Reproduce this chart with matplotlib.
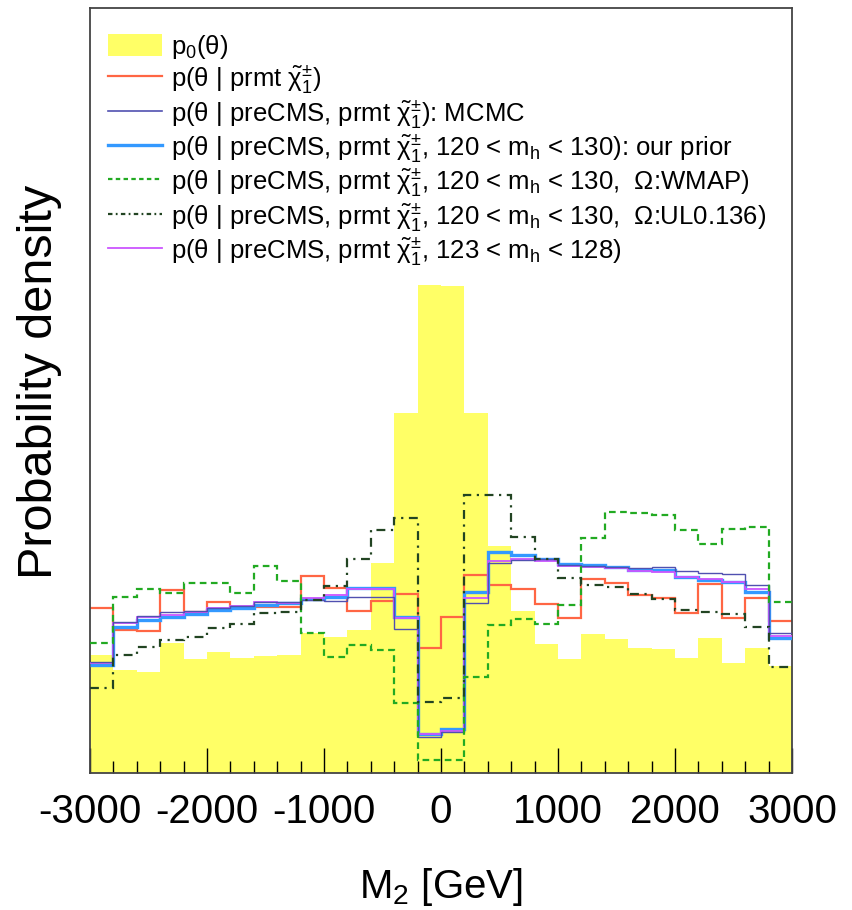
import matplotlib

matplotlib.use("Agg")
import matplotlib.pyplot as plt
import numpy as np
from matplotlib.lines import Line2D
from matplotlib.patches import Patch
from matplotlib.ticker import MultipleLocator, NullLocator

plt.rcParams["font.family"] = ["Liberation Sans", "DejaVu Sans"]
plt.rcParams["mathtext.fontset"] = "custom"
plt.rcParams["mathtext.rm"] = "Liberation Sans"
plt.rcParams["mathtext.it"] = "Liberation Sans:italic"
plt.rcParams["mathtext.default"] = "regular"
plt.rcParams["axes.unicode_minus"] = False

# 30 bins of 200 GeV on M2
BIN_EDGES = np.linspace(-3000, 3000, 31)

# probability density (arbitrary units), one value per bin
P0 = [1.18, 1.03, 1.01, 1.30, 1.14, 1.21, 1.15, 1.17, 1.18, 1.40,
      1.36, 1.43, 2.10, 3.60, 4.88, 4.87, 3.60, 2.27, 1.62, 1.29,
      1.14, 1.39, 1.34, 1.25, 1.24, 1.15, 1.35, 1.10, 1.25, 1.07]
P_PRMT = [1.65, 1.43, 1.42, 1.83, 1.61, 1.71, 1.66, 1.66, 1.66, 1.97,
          1.85, 1.62, 1.72, 1.79, 1.25, 1.56, 1.98, 1.88, 1.84, 1.69,
          1.55, 1.94, 1.90, 1.78, 1.75, 1.60, 1.89, 1.55, 1.75, 1.52]
P_MCMC = [1.11, 1.51, 1.57, 1.61, 1.62, 1.65, 1.67, 1.71, 1.71, 1.73,
          1.72, 1.76, 1.76, 1.44, 0.36, 0.41, 1.70, 2.10, 2.13, 2.14,
          2.08, 2.07, 2.06, 2.05, 2.06, 2.02, 2.00, 1.99, 1.88, 1.40]
P_PRIOR = [1.08, 1.46, 1.53, 1.56, 1.59, 1.63, 1.65, 1.68, 1.70, 1.74,
           1.76, 1.85, 1.85, 1.56, 0.39, 0.44, 1.81, 2.21, 2.18, 2.14,
           2.09, 2.08, 2.06, 2.03, 2.03, 1.96, 1.93, 1.91, 1.81, 1.35]
P_WMAP = [1.30, 1.76, 1.84, 1.80, 1.90, 1.90, 1.80, 2.07, 1.92, 1.40,
          1.16, 1.28, 1.23, 0.70, 0.13, 0.13, 0.96, 1.48, 1.54, 1.49,
          1.68, 2.35, 2.61, 2.60, 2.58, 2.43, 2.29, 2.44, 2.46, 1.71]
P_UL = [0.85, 1.18, 1.26, 1.33, 1.36, 1.45, 1.49, 1.60, 1.61, 1.73,
        1.87, 2.14, 2.43, 2.55, 0.71, 0.75, 2.78, 2.78, 2.36, 2.14,
        1.95, 1.88, 1.86, 1.79, 1.74, 1.63, 1.61, 1.59, 1.46, 1.06]
P_MH123 = [1.10, 1.50, 1.56, 1.58, 1.61, 1.65, 1.67, 1.71, 1.70, 1.75,
           1.78, 1.84, 1.84, 1.55, 0.39, 0.42, 1.75, 2.12, 2.14, 2.12,
           2.07, 2.06, 2.05, 2.02, 2.01, 1.96, 1.94, 1.91, 1.84, 1.37]

CHI = r"$\tilde{\chi}^{\pm}_{1}$"
LABELS = [
    "p$_0$(θ)",
    f"p(θ | prmt {CHI})",
    f"p(θ | preCMS, prmt {CHI}): MCMC",
    f"p(θ | preCMS, prmt {CHI}, 120 < m$_h$ < 130): our prior",
    f"p(θ | preCMS, prmt {CHI}, 120 < m$_h$ < 130,  Ω:WMAP)",
    f"p(θ | preCMS, prmt {CHI}, 120 < m$_h$ < 130,  Ω:UL0.136)",
    f"p(θ | preCMS, prmt {CHI}, 123 < m$_h$ < 128)",
]

YELLOW = "#ffff66"
RED = "#ff6644"
NAVY = "#5050b0"
BLUE = "#3399ff"
GREEN = "#22aa22"
DKGREEN = "#224422"
VIOLET = "#cc55ff"


def main() -> None:
    fig = plt.figure(figsize=(8.53, 9.10), dpi=100)
    ax = fig.add_axes([90 / 853, 1 - 773 / 910, 702 / 853, 765.5 / 910])

    ax.stairs(P0, BIN_EDGES, fill=True, color=YELLOW, zorder=1)
    ax.stairs(P_PRMT, BIN_EDGES, baseline=None, color=RED, linewidth=1.6, zorder=2)
    ax.stairs(P_PRIOR, BIN_EDGES, baseline=None, color=BLUE, linewidth=2.4, zorder=3)
    ax.stairs(P_MH123, BIN_EDGES, baseline=None, color=VIOLET, linewidth=1.3, zorder=4)
    ax.stairs(P_MCMC, BIN_EDGES, baseline=None, color=NAVY, linewidth=1.0, zorder=5)
    ax.stairs(P_WMAP, BIN_EDGES, baseline=None, color=GREEN, linewidth=1.6,
              linestyle=(0, (3, 2)), zorder=6)
    ax.stairs(P_UL, BIN_EDGES, baseline=None, color=DKGREEN, linewidth=1.6,
              linestyle=(0, (4, 2.5, 1, 2.5)), zorder=7)

    ax.set_xlim(-3000, 3000)
    ax.set_ylim(0, 7.655)

    ax.xaxis.set_major_locator(MultipleLocator(1000))
    ax.xaxis.set_minor_locator(MultipleLocator(200))
    ax.yaxis.set_major_locator(NullLocator())
    ax.yaxis.set_minor_locator(NullLocator())
    ax.tick_params(axis="x", which="major", direction="in", length=18, width=1.0,
                   labelsize=29, pad=14.5, top=False)
    ax.tick_params(axis="x", which="minor", direction="in", length=9, width=1.0, top=False)
    for side in ("top", "bottom", "left", "right"):
        ax.spines[side].set_linewidth(1.3)
        ax.spines[side].set_color("#444444")

    ax.set_xlabel("M$_2$ [GeV]", fontsize=29, va="baseline")
    ax.xaxis.set_label_coords(0.5, -0.1633)
    ax.set_ylabel("Probability density", fontsize=35)
    ax.yaxis.set_label_coords(-0.04, 0.511)

    handles = [
        Patch(facecolor=YELLOW, edgecolor="none"),
        Line2D([], [], color=RED, linewidth=1.6),
        Line2D([], [], color=NAVY, linewidth=1.2),
        Line2D([], [], color=BLUE, linewidth=2.4),
        Line2D([], [], color=GREEN, linewidth=1.6, linestyle=(0, (2, 1.5))),
        Line2D([], [], color=DKGREEN, linewidth=1.6, linestyle=(0, (2, 1.5, 0.8, 1.5))),
        Line2D([], [], color=VIOLET, linewidth=1.3),
    ]
    ax.legend(handles, LABELS, loc="upper left", bbox_to_anchor=(0.0256, 0.9667),
              frameon=False, fontsize=18.5, handlelength=2.1, handleheight=0.93,
              handletextpad=0.35, labelspacing=0.09, borderpad=0, borderaxespad=0)

    fig.savefig("out.png", dpi=100)
    plt.close(fig)


if __name__ == "__main__":
    main()
